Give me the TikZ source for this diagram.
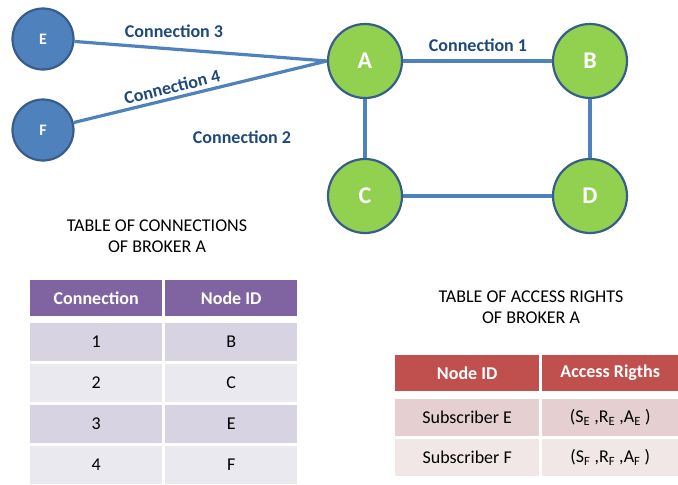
\documentclass[tikz,border=0pt]{standalone}
\usepackage{fontspec}
\setmainfont{Carlito}
\definecolor{nodegreen}{RGB}{146,208,80}
\definecolor{nodeblue}{RGB}{79,129,189}
\definecolor{nodeborder}{RGB}{56,93,138}
\definecolor{linkblue}{RGB}{79,129,189}
\definecolor{labelblue}{RGB}{31,73,125}
\definecolor{purplehead}{RGB}{128,100,162}
\definecolor{purpleA}{RGB}{216,211,226}
\definecolor{purpleB}{RGB}{235,233,240}
\definecolor{redhead}{RGB}{192,80,77}
\definecolor{redA}{RGB}{230,207,208}
\definecolor{redB}{RGB}{242,231,231}
\begin{document}
\begin{tikzpicture}[x=1pt,y=-1pt,
  bignode/.style={circle,draw=nodeborder,line width=2.2pt,fill=nodegreen,minimum size=74pt,inner sep=0pt,text=white,font=\fontsize{24}{24}\selectfont\bfseries},
  smallnode/.style={circle,draw=nodeborder,line width=2.2pt,fill=nodeblue,minimum size=61pt,inner sep=0pt,text=white,font=\fontsize{16}{16}\selectfont\bfseries},
  link/.style={draw=linkblue,line width=3.2pt},
  conlabel/.style={text=labelblue,font=\fontsize{18}{18}\selectfont\bfseries},
  title/.style={align=center,font=\fontsize{18}{21}\selectfont},
  cell/.style={anchor=north west,inner sep=0pt,font=\fontsize{18}{18}\selectfont},
  headcell/.style={cell,text=white,font=\fontsize{18}{18}\selectfont\bfseries}]
\useasboundingbox (0,0) rectangle (678,485);

% nodes
\node[smallnode] (E) at (43,39) {E};
\node[smallnode] (F) at (43,130) {F};
\node[bignode] (A) at (365,61) {A};
\node[bignode] (B) at (590,61) {B};
\node[bignode] (C) at (365,196) {C};
\node[bignode] (D) at (590,196) {D};

% connectors
\draw[link] (E) -- (A.west);
\draw[link] (F) -- (A.west);
\draw[link] (A) -- (B);
\draw[link] (A) -- (C);
\draw[link] (B) -- (D);
\draw[link] (C) -- (D);

% labels
\node[conlabel] (l3) at (174,31) {Connection 3};
\node[conlabel,rotate=14,inner sep=1pt] (l4) at (172,87) {Connection 4};
\node[conlabel] (l2) at (242,137) {Connection 2};
\node[conlabel] (l1) at (478,45) {Connection 1};

% titles
\node[title] (t1) at (157,236) {TABLE OF CONNECTIONS\\OF BROKER A};
\node[title] (t2) at (531,307) {TABLE OF ACCESS RIGHTS\\OF BROKER A};

% connections table
\node[headcell,fill=purplehead,minimum width=132pt,minimum height=36pt] (h1) at (30,280) {Connection};
\node[headcell,fill=purplehead,minimum width=132pt,minimum height=36pt] (h2) at (165,280) {Node ID};
\node[cell,fill=purpleA,minimum width=132pt,minimum height=37.5pt] (r1a) at (30,323) {1};
\node[cell,fill=purpleA,minimum width=132pt,minimum height=37.5pt] (r1b) at (165,323) {B};
\node[cell,fill=purpleB,minimum width=132pt,minimum height=37.5pt] (r2a) at (30,364) {2};
\node[cell,fill=purpleB,minimum width=132pt,minimum height=37.5pt] (r2b) at (165,364) {C};
\node[cell,fill=purpleA,minimum width=132pt,minimum height=37.5pt] (r3a) at (30,405) {3};
\node[cell,fill=purpleA,minimum width=132pt,minimum height=37.5pt] (r3b) at (165,405) {E};
\node[cell,fill=purpleB,minimum width=132pt,minimum height=37.5pt] (r4a) at (30,446) {4};
\node[cell,fill=purpleB,minimum width=132pt,minimum height=37.5pt] (r4b) at (165,446) {F};

% access rights table
\node[headcell,fill=redhead,minimum width=144pt,minimum height=36pt] (k1) at (395,355) {Node ID};
\node[headcell,fill=redhead,minimum width=136pt,minimum height=36pt] (k2) at (542,355) {Access Rigths};
\node[cell,fill=redA,minimum width=144pt,minimum height=37pt] (s1a) at (395,399) {Subscriber E};
\node[cell,fill=redA,minimum width=136pt,minimum height=37pt] (s1b) at (542,399) {(S\textsubscript{E} ,R\textsubscript{E} ,A\textsubscript{E} )};
\node[cell,fill=redB,minimum width=144pt,minimum height=37pt] (s2a) at (395,439) {Subscriber F};
\node[cell,fill=redB,minimum width=136pt,minimum height=37pt] (s2b) at (542,439) {(S\textsubscript{F} ,R\textsubscript{F} ,A\textsubscript{F} )};
\end{tikzpicture}
\end{document}
